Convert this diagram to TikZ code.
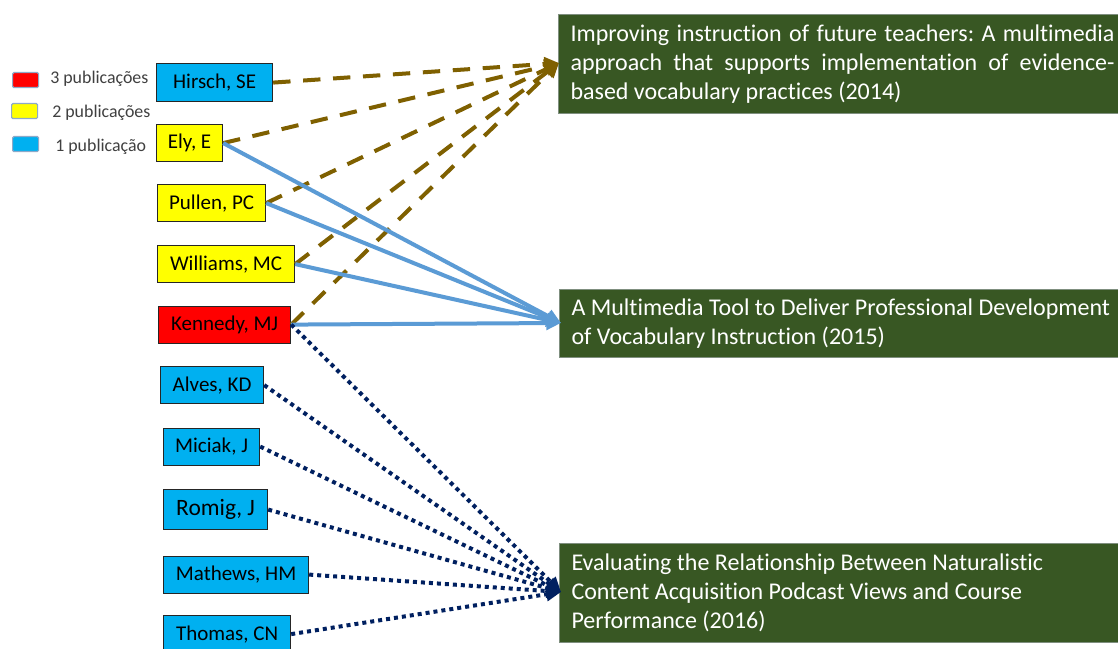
\documentclass[tikz,border=0pt]{standalone}
\usepackage{fontspec}
\setmainfont[Ligatures=CommonOff]{Carlito}
\usetikzlibrary{arrows.meta}
\definecolor{pubred}{HTML}{FF0000}
\definecolor{pubyellow}{HTML}{FFFF00}
\definecolor{pubblue}{HTML}{00B0F0}
\definecolor{titlegreen}{HTML}{385723}
\definecolor{titleborder}{HTML}{7F8F7F}
\definecolor{legborder}{HTML}{8EA9C8}
\definecolor{legtext}{HTML}{404040}
\definecolor{brownline}{HTML}{7F6000}
\definecolor{blueline}{HTML}{5B9BD5}
\definecolor{navyline}{HTML}{002060}
\tikzset{
  author/.style={draw=black!85, line width=0.9pt, anchor=north west, inner sep=0pt,
    minimum height=27.75pt, font=\fontsize{15.75}{18}\selectfont, text=black},
  legsq/.style={draw=legborder, line width=0.9pt, rounded corners=1pt, anchor=north west,
    inner sep=0pt, minimum width=19.5pt, minimum height=11.25pt},
  legtxt/.style={anchor=west, inner sep=0pt, text=legtext, font=\fontsize{13.4}{15}\selectfont},
  titlebox/.style={fill=titlegreen, draw=titleborder, line width=0.8pt, anchor=north west,
    inner xsep=9pt, inner ysep=0pt, text=white, font=\fontsize{18}{21.75}\selectfont},
  brownarrow/.style={draw=brownline, line width=3pt, dash pattern=on 13pt off 9.5pt,
    -{Triangle[length=11pt,width=10pt]}},
  bluearrow/.style={draw=blueline, line width=3pt, -{Triangle[length=11pt,width=10pt]}},
  navyarrow/.style={draw=navyline, line width=3pt, dash pattern=on 3pt off 3pt,
    -{Triangle[length=11pt,width=10pt]}},
}
\newcommand{\titletext}[2]{\parbox{#1}{\frenchspacing\hyphenpenalty=10000\emergencystretch=20pt\fontsize{18}{21.75}\selectfont\color{white}#2}}
\begin{document}
\begin{tikzpicture}[x=0.75pt,y=-0.75pt]
\clip (0,0) rectangle (1118,649);
\fill[white] (0,0) rectangle (1118,649);

% legend
\node[legsq, fill=pubred] (lr) at (12,72) {};
\node[legsq, fill=pubyellow] (ly) at (11,103) {};
\node[legsq, fill=pubblue] (lb) at (12,136) {};
\node[legtxt] (lrt) at (50,79) {3 publicações};
\node[legtxt] (lyt) at (52,113) {2 publicações};
\node[legtxt] (lbt) at (55,147) {1 publicação};

% authors
\node[author, fill=pubblue, minimum width=87pt, minimum height=28.5pt] (hirsch) at (156,63) {Hirsch, SE};
\node[author, fill=pubyellow, minimum width=49.5pt] (ely) at (156,124) {Ely, E};
\node[author, fill=pubyellow, minimum width=81pt] (pullen) at (157,184) {Pullen, PC};
\node[author, fill=pubyellow, minimum width=102.75pt] (williams) at (157,245) {Williams, MC};
\node[author, fill=pubred, minimum width=99pt] (kennedy) at (158,305.5) {Kennedy, MJ};
\node[author, fill=pubblue, minimum width=77.25pt] (alves) at (160,366) {Alves, KD};
\node[author, fill=pubblue, minimum width=72pt] (miciak) at (163,427.5) {Miciak, J};
\node[author, fill=pubblue, minimum width=78pt, minimum height=30pt, font=\fontsize{17.6}{20}\selectfont] (romig) at (163,489) {Romig, J};
\node[author, fill=pubblue, minimum width=108.75pt] (mathews) at (163,555.5) {Mathews, HM};
\node[author, fill=pubblue, minimum width=95.25pt] (thomas) at (163,615) {Thomas, CN};

% titles
\node[titlebox, minimum height=74.25pt] (t1) at (558,14)
  {\titletext{408pt}{Improving instruction of future teachers: A multimedia approach that supports implementation of evidence-based vocabulary practices (2014)}};
\node[titlebox, minimum height=51pt] (t2) at (559,289)
  {\titletext{410pt}{\raggedright A Multimedia Tool to Deliver Professional Development of Vocabulary Instruction (2015)}};
\node[titlebox, minimum height=74.25pt] (t3) at (559,543)
  {\titletext{410pt}{\raggedright Evaluating the Relationship Between Naturalistic Content Acquisition Podcast Views and Course Performance (2016)}};

\coordinate (tip1) at (559,63);
\coordinate (tip2) at (561,323);
\coordinate (tip3) at (561,592);

% connectors
\draw[brownarrow] (hirsch.east) -- (tip1);
\draw[brownarrow] (ely.east) -- (tip1);
\draw[brownarrow] (pullen.east) -- (tip1);
\draw[brownarrow] (williams.east) -- (tip1);
\draw[brownarrow] (kennedy.east) -- (tip1);

\draw[bluearrow] (ely.east) -- (tip2);
\draw[bluearrow] (pullen.east) -- (tip2);
\draw[bluearrow] (williams.east) -- (tip2);
\draw[bluearrow] (kennedy.east) -- (tip2);

\draw[navyarrow] (kennedy.east) -- (tip3);
\draw[navyarrow] (alves.east) -- (tip3);
\draw[navyarrow] (miciak.east) -- (tip3);
\draw[navyarrow] (romig.east) -- (tip3);
\draw[navyarrow] (mathews.east) -- (tip3);
\draw[navyarrow] (thomas.east) -- (tip3);
\end{tikzpicture}
\end{document}
